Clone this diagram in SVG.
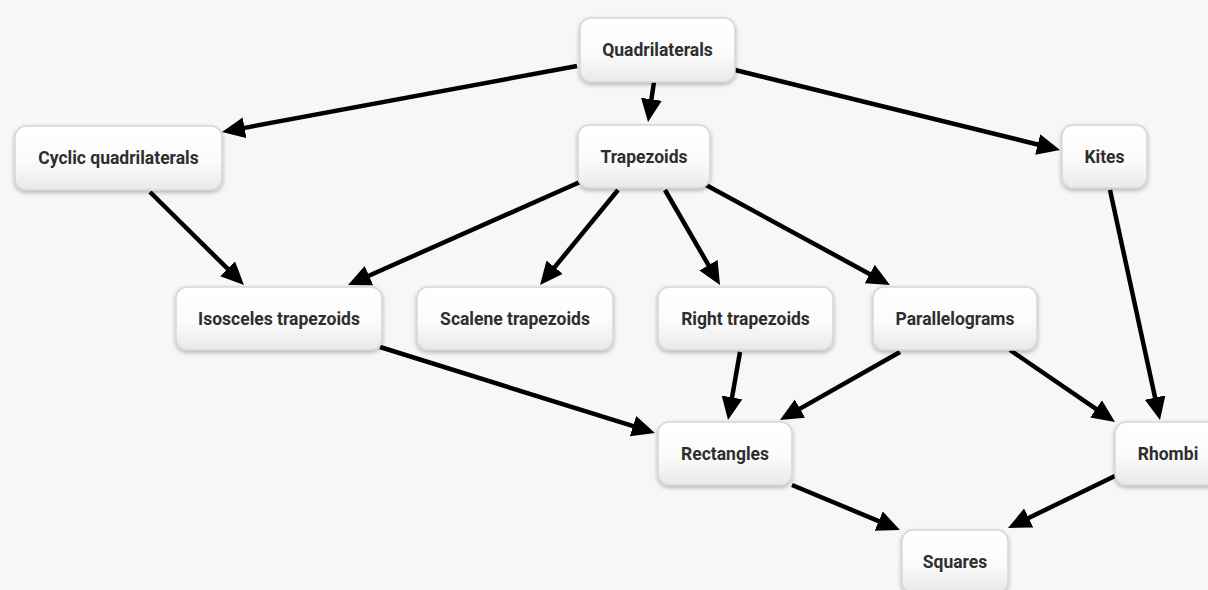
<svg xmlns="http://www.w3.org/2000/svg" width="1208" height="590" viewBox="0 0 1208 590">
<defs>
<linearGradient id="nodeFill" x1="0" y1="0" x2="0" y2="1">
<stop offset="0" stop-color="#ffffff"/>
<stop offset="0.55" stop-color="#fbfbfb"/>
<stop offset="1" stop-color="#e9e9e9"/>
</linearGradient>
<filter id="shadow" x="-20%" y="-20%" width="140%" height="150%">
<feDropShadow dx="0" dy="2" stdDeviation="2" flood-color="#000" flood-opacity="0.28"/>
</filter>
<marker id="arrow" markerUnits="userSpaceOnUse" markerWidth="25" markerHeight="23" refX="7" refY="10.5" orient="auto">
<path d="M0,0 L23,10.5 L0,21 z" fill="#000"/>
</marker>
<style>
.node rect { fill: url(#nodeFill); stroke: #d6d6d6; stroke-width: 1.5; filter: url(#shadow); }
.node text { font-family: Roboto, "Liberation Sans", sans-serif; font-weight: bold; font-size: 17.5px; fill: #2e2e2e; text-anchor: middle; dominant-baseline: central; }
.edges line { stroke: #000; stroke-width: 4.5; marker-end: url(#arrow); }
</style>
</defs>
<rect x="0" y="0" width="1208" height="590" fill="#f7f7f7"/>
<g class="edges" id="connectors">
<line x1="577" y1="66" x2="237.7" y2="129.1"/>
<line x1="654" y1="82" x2="650.4" y2="106.2"/>
<line x1="735" y1="70" x2="1044.5" y2="146.2"/>
<line x1="150" y1="192" x2="232.6" y2="273.7"/>
<line x1="580" y1="182" x2="362.6" y2="278.5"/>
<line x1="618" y1="190" x2="550.2" y2="272.6"/>
<line x1="665" y1="190" x2="712" y2="271.2"/>
<line x1="706" y1="185" x2="875.9" y2="277.4"/>
<line x1="1110" y1="190" x2="1156.6" y2="404.4"/>
<line x1="380" y1="347" x2="639.7" y2="428.2"/>
<line x1="740" y1="352" x2="730.8" y2="404.3"/>
<line x1="900" y1="352" x2="793.9" y2="412.1"/>
<line x1="1010" y1="350" x2="1101.8" y2="412.9"/>
<line x1="792" y1="485" x2="885.2" y2="523.8"/>
<line x1="1117" y1="475" x2="1022.4" y2="521"/>
</g>
<g class="node" id="quadrilaterals"><rect x="580" y="18" width="155" height="64" rx="11"/><text x="657.5" y="50">Quadrilaterals</text></g>
<g class="node" id="cyclic"><rect x="15" y="126" width="207" height="64" rx="11"/><text x="118.5" y="158">Cyclic quadrilaterals</text></g>
<g class="node" id="trapezoids"><rect x="578" y="125" width="132" height="63" rx="11"/><text x="644" y="156.5">Trapezoids</text></g>
<g class="node" id="kites"><rect x="1062" y="125" width="85" height="63" rx="11"/><text x="1104.5" y="156.5">Kites</text></g>
<g class="node" id="isosceles"><rect x="176" y="287" width="206" height="63" rx="11"/><text x="279" y="318.5">Isosceles trapezoids</text></g>
<g class="node" id="scalene"><rect x="417" y="287" width="196" height="63" rx="11"/><text x="515" y="318.5">Scalene trapezoids</text></g>
<g class="node" id="right"><rect x="658" y="287" width="175" height="63" rx="11"/><text x="745.5" y="318.5">Right trapezoids</text></g>
<g class="node" id="parallelograms"><rect x="873" y="287" width="164" height="63" rx="11"/><text x="955" y="318.5">Parallelograms</text></g>
<g class="node" id="rectangles"><rect x="658" y="422" width="134" height="63" rx="11"/><text x="725" y="453.5">Rectangles</text></g>
<g class="node" id="rhombi"><rect x="1115" y="422" width="106" height="63" rx="11"/><text x="1168" y="453.5">Rhombi</text></g>
<g class="node" id="squares"><rect x="902" y="530" width="106" height="63" rx="11"/><text x="955" y="561.5">Squares</text></g>
</svg>
